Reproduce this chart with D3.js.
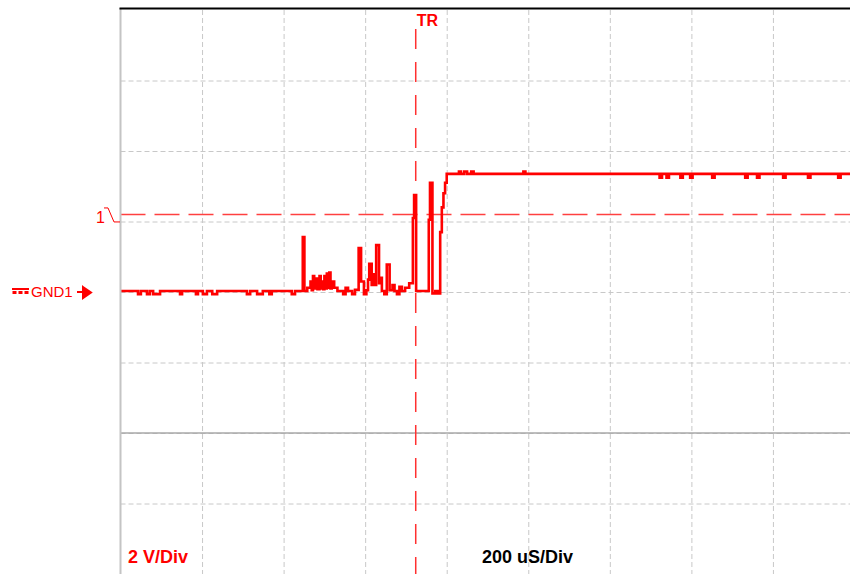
<!DOCTYPE html>
<html>
<head>
<meta charset="utf-8">
<script src="https://cdn.jsdelivr.net/npm/d3@7/dist/d3.min.js"></script>
<style>
  body { margin: 0; background: #fff; }
</style>
</head>
<body>
<div id="chart"></div>
<script>
// capture samples: time in uS from left edge of screen, volts relative to GND1
const traceTime = [0, 43, 50, 65, 72, 80, 97, 146, 151, 185, 190, 202, 212, 225, 237,
    310, 318, 335, 349, 365, 371, 420, 428, 447, 451,
    458, 466, 469, 472, 475, 480, 483, 488, 491, 494, 497, 500, 503, 506, 509, 512, 515, 518, 524, 532,
    546, 552, 558, 568, 575, 584, 590, 597, 603,
    607, 610, 616, 619, 622, 627, 634, 638, 641, 647, 653, 660,
    667, 672, 678, 684, 690, 698, 708, 717, 720, 725,
    756, 759, 765, 772, 778, 784, 788, 792, 796, 800,
    830, 835, 843, 850, 860, 866, 988, 993,
    1322, 1328, 1339, 1345, 1373, 1379, 1397, 1403, 1451, 1457, 1532, 1538,
    1561, 1567, 1625, 1631, 1686, 1692, 1760, 1766, 1789];
const traceVolt = [0.03, -0.06, 0.03, -0.06, 0.03, -0.06, 0.03, -0.06, 0.03, -0.06, 0.03, -0.06, 0.03, -0.06, 0.03,
    -0.06, 0.03, -0.06, 0.03, -0.06, 0.03, -0.06, 0.03, 1.56, 0.03,
    0.12, 0.3, 0.05, 0.45, 0.1, 0.38, 0.08, 0.45, 0.1, 0.3, 0.08, 0.45, 0.1, 0.52, 0.12, 0.55, 0.1, 0.3, 0.12, 0.03,
    -0.06, 0.12, 0.03, -0.06, 0.06, 1.25, 0.3, -0.06, 0.05,
    0.35, 0.8, 0.2, 0.5, 0.2, 1.33, 0.25, 0.4, 0.03, -0.06, 0.78, 0.05,
    0.2, 0.03, -0.06, 0.15, 0.03, 0.12, 0.25, 2.1, 2.75, 0.03,
    2.05, 3.1, -0.04, 0.03, -0.04, 1.7, 2.4, 2.8, 3.1, 3.35,
    3.42, 3.35, 3.42, 3.35, 3.42, 3.35, 3.42, 3.35,
    3.24, 3.35, 3.24, 3.35, 3.24, 3.35, 3.24, 3.35, 3.24, 3.35, 3.24, 3.35,
    3.24, 3.35, 3.24, 3.35, 3.24, 3.35, 3.24, 3.35, 3.35];

const timeTicks = [200, 400, 600, 800, 1000, 1200, 1400, 1600];
const voltTicks = [-6, -4, -2, 0, 2, 4, 6];
const triggerTime = 724;
const triggerLevel = 2.2;
const refLevel = -4;
const voltLabel = '2 V/Div';
const timeLabel = '200 uS/Div';
const groundLabel = 'GND1';
const channelLabel = '1';
const triggerLabel = 'TR';

const width = 850, height = 574;
const plot = { left: 120.5, right: 850, top: 10, bottom: 574 };
const red = '#ff0000';
const font = "'Liberation Sans', Arial, sans-serif";

const x = d3.scaleLinear().domain([0, 1789]).range([plot.left, plot.right]);
const y = d3.scaleLinear().domain([-8, 8]).range([plot.bottom, plot.top]);

const svg = d3.select('#chart')
    .append('svg')
    .attr('width', width)
    .attr('height', height);

svg.append('defs').append('clipPath')
    .attr('id', 'screen')
    .append('rect')
    .attr('x', plot.left)
    .attr('y', plot.top - 2)
    .attr('width', plot.right - plot.left)
    .attr('height', plot.bottom - plot.top + 2);

// dashed grid
const xGrid = svg.append('g')
    .attr('transform', `translate(0,${plot.top})`)
    .call(d3.axisBottom(x).tickValues(timeTicks).tickSize(plot.bottom - plot.top).tickFormat(''));
const yGrid = svg.append('g')
    .attr('transform', `translate(${plot.left},0)`)
    .call(d3.axisRight(y).tickValues(voltTicks).tickSize(plot.right - plot.left).tickFormat(''));
[xGrid, yGrid].forEach(g => {
    g.select('.domain').remove();
    g.selectAll('line')
        .style('stroke', '#c8c8c8')
        .style('stroke-width', '1px')
        .style('stroke-dasharray', '5,3');
});

// solid grey reference line
svg.append('line')
    .attr('x1', plot.left)
    .attr('x2', plot.right)
    .attr('y1', y(refLevel))
    .attr('y2', y(refLevel))
    .style('stroke', '#a8a8a8')
    .style('stroke-width', '1.5px');

// trigger level
svg.append('line')
    .attr('x1', plot.left)
    .attr('x2', plot.right)
    .attr('y1', y(triggerLevel))
    .attr('y2', y(triggerLevel))
    .style('stroke', '#ff4040')
    .style('stroke-width', '1.5px')
    .style('stroke-dasharray', '25,9');

// trigger time
svg.append('line')
    .attr('x1', x(triggerTime))
    .attr('x2', x(triggerTime))
    .attr('y1', 29)
    .attr('y2', plot.bottom)
    .style('stroke', '#ff3030')
    .style('stroke-width', '1.5px')
    .style('stroke-dasharray', '20,13');

svg.append('text')
    .attr('x', x(triggerTime) + 1)
    .attr('y', 26)
    .style('font-family', font)
    .style('font-size', '16px')
    .style('font-weight', 'bold')
    .style('fill', red)
    .text(triggerLabel);

// trace
const points = traceTime.map((t, i) => [t, traceVolt[i]]);
svg.append('path')
    .datum(points)
    .attr('clip-path', 'url(#screen)')
    .attr('d', d3.line().x(d => x(d[0])).y(d => y(d[1])).curve(d3.curveStepAfter))
    .style('fill', 'none')
    .style('stroke', red)
    .style('stroke-width', '2.6px')
    .style('stroke-linejoin', 'miter');

// screen borders
svg.append('line')
    .attr('x1', plot.left)
    .attr('x2', plot.left)
    .attr('y1', 8)
    .attr('y2', plot.bottom)
    .style('stroke', '#c4c4c4')
    .style('stroke-width', '2px');
svg.append('line')
    .attr('x1', plot.left - 1)
    .attr('x2', plot.right)
    .attr('y1', 8.5)
    .attr('y2', 8.5)
    .style('stroke', '#000')
    .style('stroke-width', '2px');

// channel trigger marker
const trigY = y(triggerLevel);
svg.append('text')
    .attr('x', 96)
    .attr('y', trigY + 9)
    .style('font-family', font)
    .style('font-size', '16px')
    .style('fill', red)
    .text(channelLabel);
svg.append('path')
    .attr('d', `M104,${trigY - 6.5} H108 L114,${trigY + 7.5} H120`)
    .style('fill', 'none')
    .style('stroke', red)
    .style('stroke-width', '1px');

// ground marker
const gndY = y(0);
const gnd = svg.append('g').style('fill', red);
gnd.append('rect').attr('x', 12).attr('y', gndY - 4).attr('width', 17).attr('height', 2);
[12.5, 18.5, 24.5].forEach(gx => {
    gnd.append('rect').attr('x', gx).attr('y', gndY - 1).attr('width', 4).attr('height', 3);
});
gnd.append('text')
    .attr('x', 31)
    .attr('y', gndY + 5)
    .style('font-family', font)
    .style('font-size', '15px')
    .text(groundLabel);
gnd.append('path')
    .attr('d', `M77,${gndY} H84 M83,${gndY - 5} L91,${gndY + 0.5} L83,${gndY + 6} Z`)
    .style('stroke', red)
    .style('stroke-width', '2px');

// scale labels
svg.append('text')
    .attr('x', 128)
    .attr('y', 563)
    .style('font-family', font)
    .style('font-size', '18px')
    .style('font-weight', 'bold')
    .style('fill', red)
    .text(voltLabel);
svg.append('text')
    .attr('x', 482)
    .attr('y', 563)
    .style('font-family', font)
    .style('font-size', '18px')
    .style('font-weight', 'bold')
    .style('fill', '#000')
    .text(timeLabel);
</script>
</body>
</html>
